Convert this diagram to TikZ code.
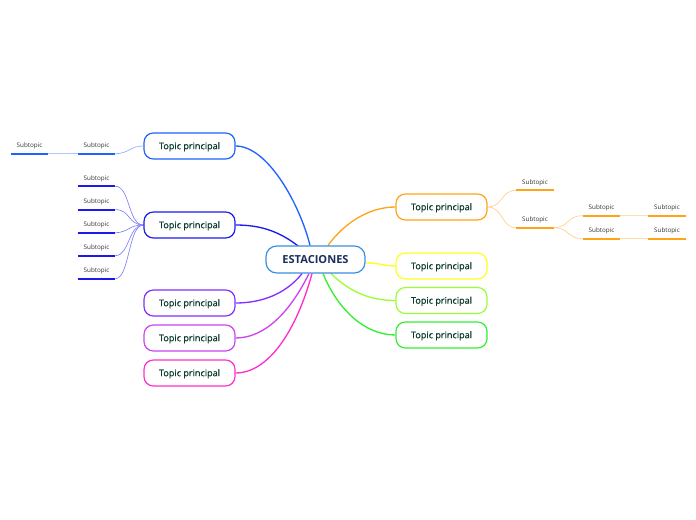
\documentclass[tikz,border=0pt]{standalone}
\usepackage{fontspec}
\setmainfont{Open Sans}
\newfontfamily\semifont{Open Sans}[FakeBold=0.9]
\usepackage{tikz}
\usetikzlibrary{backgrounds}

\definecolor{centerblue}{HTML}{3A8EE0}
\definecolor{centertext}{HTML}{1B2F5C}
\definecolor{topictext}{HTML}{0E3D30}
\definecolor{subtext}{HTML}{333333}
\definecolor{cblue}{HTML}{1F62FF}
\definecolor{cnavy}{HTML}{1A1AEE}
\definecolor{cpurple}{HTML}{8130FF}
\definecolor{cviolet}{HTML}{CC44EE}
\definecolor{cpink}{HTML}{FF2FCC}
\definecolor{corange}{HTML}{FFA31A}
\definecolor{cyellow}{HTML}{FFFF1E}
\definecolor{clime}{HTML}{99FF33}
\definecolor{cgreen}{HTML}{33EE33}

\begin{document}
\begin{tikzpicture}[x=0.75pt,y=-0.75pt,
  topic/.style={draw=#1, line width=0.9pt, rounded corners=7pt, fill=white,
    minimum width=68.25pt, minimum height=19.5pt, inner sep=0pt, text depth=0.4pt,
    text=topictext, font=\semifont\fontsize{6.8}{8}\selectfont},
  sub/.style={minimum width=27.75pt, minimum height=11.25pt, inner sep=0pt,
    text=subtext, font=\fontsize{4.7}{5}\selectfont},
  branch/.style={draw=#1, line width=1pt},
  twig/.style={draw=#1, line width=0.5pt},
  underline/.style={draw=#1, line width=1.5pt}]

  % page frame
  \useasboundingbox (0,0) rectangle (696,520);

  % central idea
  \node[draw=centerblue, line width=0.9pt, rounded corners=8pt, fill=white,
    minimum width=74.25pt, minimum height=20.25pt, inner sep=0pt,
    text=centertext, font=\fontsize{8.3}{9}\selectfont\bfseries] (est) at (315.5,259.5) {ESTACIONES};

  % main topics, left side
  \node[topic=cblue]   (t1) at (189.5,146)   {Topic principal};
  \node[topic=cnavy]   (t2) at (189.5,225)   {Topic principal};
  \node[topic=cpurple] (t3) at (189.5,303)   {Topic principal};
  \node[topic=cviolet] (t4) at (189.5,338)   {Topic principal};
  \node[topic=cpink]   (t5) at (189.5,373)   {Topic principal};

  % main topics, right side
  \node[topic=corange] (r1) at (441.5,207)   {Topic principal};
  \node[topic=cyellow] (r2) at (441.5,266)   {Topic principal};
  \node[topic=clime]   (r3) at (441.5,300.5) {Topic principal};
  \node[topic=cgreen]  (r4) at (441.5,335)   {Topic principal};

  % subtopics of the first topic
  \node[sub] (sa1) at (96.5,146) {Subtopic};
  \node[sub] (sa2) at (29.5,146) {Subtopic};

  % subtopics of the second topic
  \foreach \i/\y in {1/178.5, 2/202, 3/225, 4/248, 5/271}
    \node[sub] (sb\i) at (96.5,\y) {Subtopic};

  % subtopics of the orange topic
  \node[sub] (sc1) at (535,182.5) {Subtopic};
  \node[sub] (sc2) at (535,220)   {Subtopic};
  \node[sub] (sd1) at (601.5,208) {Subtopic};
  \node[sub] (sd2) at (601.5,231) {Subtopic};
  \node[sub] (se1) at (667,208)   {Subtopic};
  \node[sub] (se2) at (667,231)   {Subtopic};

  % underlines
  \foreach \n in {sa1,sa2}
    \draw[underline=cblue] (\n.south west) -- (\n.south east);
  \foreach \n in {sb1,sb2,sb3,sb4,sb5}
    \draw[underline=cnavy] (\n.south west) -- (\n.south east);
  \foreach \n in {sc1,sc2,sd1,sd2,se1,se2}
    \draw[underline=corange] (\n.south west) -- (\n.south east);

  \begin{scope}[on background layer]
    % branches from the centre
    \draw[branch=cblue]   ([shift={(-5.5,0)}]est.north) .. controls (300,205) and (268,146) .. (t1.east);
    \draw[branch=cnavy]   ([shift={(-12,5)}]est.north) .. controls (282,232) and (262,225) .. (t2.east);
    \draw[branch=cpurple] ([shift={(-13.5,0)}]est.south) .. controls (285,295) and (260,303) .. (t3.east);
    \draw[branch=cviolet] ([shift={(-6.5,0)}]est.south) .. controls (290,312) and (265,338) .. (t4.east);
    \draw[branch=cpink]   ([shift={(-3.5,0)}]est.south) .. controls (296,332) and (268,373) .. (t5.east);
    \draw[branch=corange] ([shift={(12.5,0)}]est.north) .. controls (345,222) and (370,207) .. (r1.west);
    \draw[branch=cyellow] ([shift={(0,3.5)}]est.east) .. controls (380,263) and (384,266) .. (r2.west);
    \draw[branch=clime]   ([shift={(15.5,0)}]est.south) .. controls (350,292) and (370,300.5) .. (r3.west);
    \draw[branch=cgreen]  ([shift={(7.5,0)}]est.south) .. controls (338,310) and (365,335) .. (r4.west);

    % twigs to subtopics
    \draw[twig=cblue!50] (t1.west) .. controls (130,146) and (129,153.5) .. (sa1.south east);
    \draw[twig=cblue!35] (sa1.south west) -- (sa2.south east);
    \foreach \i in {1,...,5}
      \draw[twig=cnavy!55] (t2.west) .. controls (128,225) and (130,\i*23+163) .. (sb\i.south east);
    \draw[twig=corange!50] (r1.east) .. controls (503,207) and (501,190) .. (sc1.south west);
    \draw[twig=corange!50] (r1.east) .. controls (503,207) and (501,227.5) .. (sc2.south west);
    \draw[twig=corange!50] (sc2.south east) .. controls (569,227.5) and (567,215.5) .. (sd1.south west);
    \draw[twig=corange!50] (sc2.south east) .. controls (569,227.5) and (567,238.5) .. (sd2.south west);
    \draw[twig=corange!35] (sd1.south east) -- (se1.south west);
    \draw[twig=corange!35] (sd2.south east) -- (se2.south west);
  \end{scope}
\end{tikzpicture}
\end{document}
